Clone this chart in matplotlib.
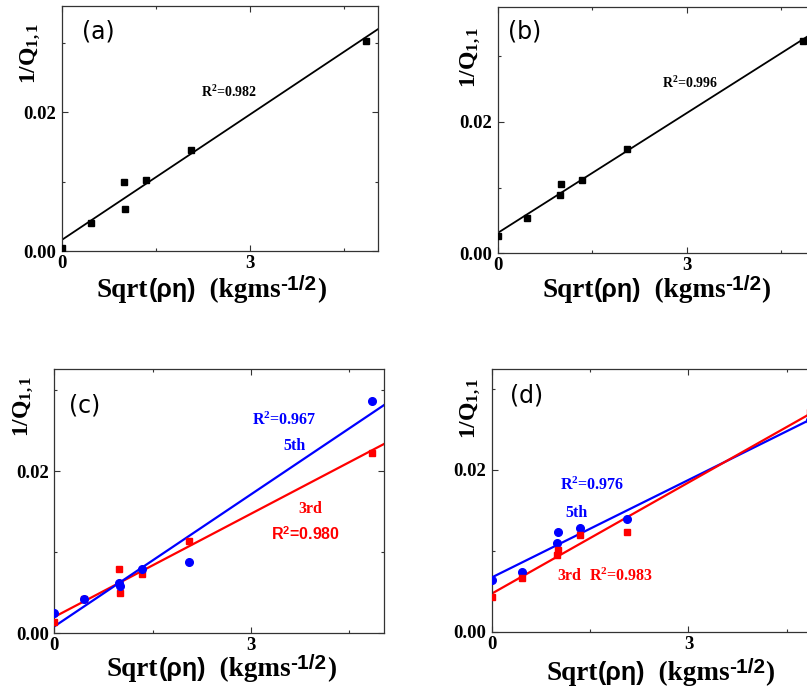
import numpy as np
import matplotlib
matplotlib.use("Agg")
import matplotlib.pyplot as plt
from matplotlib.ticker import MultipleLocator, FormatStrFormatter

plt.rcParams['mathtext.fontset'] = 'custom'
plt.rcParams['mathtext.rm'] = 'Liberation Serif:bold'
plt.rcParams['mathtext.bf'] = 'Liberation Serif:bold'
plt.rcParams['mathtext.it'] = 'Liberation Serif:bold:italic'
plt.rcParams['mathtext.sf'] = 'Liberation Sans:bold'

W, H = 807, 691

# datos
x_vals = [0.0, 0.46, 0.99, 1.01, 1.34, 2.06, 4.85]
y_a = [0.0005, 0.0041, 0.0100, 0.0061, 0.0102, 0.0146, 0.0303]
y_b = [0.0027, 0.0053, 0.0089, 0.0105, 0.0111, 0.0159, 0.0323]
y_c_5th = [0.0025, 0.0042, 0.0062, 0.0058, 0.0079, 0.0088, 0.0286]
y_c_3rd = [0.0014, 0.0042, 0.0079, 0.0050, 0.0073, 0.0114, 0.0223]
y_d_5th = [0.0064, 0.0074, 0.0110, 0.0123, 0.0128, 0.0139, 0.0262]
y_d_3rd = [0.0043, 0.0066, 0.0095, 0.0101, 0.0120, 0.0123, 0.0272]

r2_a, r2_b = "0.982", "0.996"
r2_c_5th, r2_c_3rd = "0.967", "0.980"
r2_d_5th, r2_d_3rd = "0.976", "0.983"

ylabel = r"1/Q$_{\mathbf{1,1}}$"
serif = dict(family='Liberation Serif', weight='bold')
sans = dict(family='Liberation Sans', weight='bold')

# piezas del titulo del eje x: (texto, fuente, tamano, subida en px)
xlabel_parts = [
    ("Sqrt", serif, 19.5, 0),
    ("(ρη)", sans, 18, 0),
    ("  (kgms", serif, 19.5, 0),
    ("-1/2", sans, 15, 7),
    (")", serif, 19.5, 0),
]

fig = plt.figure(figsize=(W / 100, H / 100), dpi=100)
renderer = fig.canvas.get_renderer()


def panel(l, r, t, b, ytop):
    ax = fig.add_axes([l / W, 1 - b / H, (r - l) / W, (b - t) / H])
    ax.set_xlim(0, 5.04)
    ax.set_ylim(0, ytop)
    ax.xaxis.set_major_locator(MultipleLocator(3))
    ax.xaxis.set_minor_locator(MultipleLocator(1.5))
    ax.yaxis.set_major_locator(MultipleLocator(0.02))
    ax.yaxis.set_minor_locator(MultipleLocator(0.01))
    ax.xaxis.set_major_formatter(FormatStrFormatter('%d'))
    ax.yaxis.set_major_formatter(FormatStrFormatter('%.2f'))
    ax.tick_params(which='both', direction='in', top=True, right=True, width=0.8, color='#333333')
    ax.tick_params(which='major', length=4, pad=4)
    ax.tick_params(axis='x', which='major', pad=3)
    ax.tick_params(which='minor', length=2)
    for lab in ax.get_xticklabels() + ax.get_yticklabels():
        lab.set_fontproperties(serif)
        lab.set_fontsize(13.5)
    for s in ax.spines.values():
        s.set_linewidth(0.9)
        s.set_color('#333333')
    return ax


def fit_line(ax, y, color, lw):
    k, c = np.polyfit(x_vals, y, 1)
    xl = np.array(ax.get_xlim())
    ax.plot(xl, k * xl + c, color=color, lw=lw, zorder=2)


def ftext(x, y, s, **kw):
    fig.text(x / W, 1 - y / H, s, ha='center', va='center', **kw)


def xlabel_at(x0, base):
    x = x0
    for s, fp, size, dy in xlabel_parts:
        t = fig.text(x / W, 1 - (base - dy) / H, s, ha='left', va='baseline',
                     fontproperties=fp, fontsize=size)
        x += t.get_window_extent(renderer).width


# (a)
ax = panel(62, 378, 6, 251, 0.0353)
fit_line(ax, y_a, 'black', 1.3)
ax.plot(x_vals, y_a, 's', color='black', ms=4.5, zorder=3)
ftext(98, 31, "(a)", family='DejaVu Sans', fontsize=17)
ftext(229, 92, r"R$^{\mathbf{2}}$=" + r2_a, fontproperties=serif, fontsize=10)
ftext(30, 53, ylabel, rotation=90, fontproperties=serif, fontsize=17)
xlabel_at(97, 297)

# (b)
ax = panel(497.7, 815.2, 7.3, 253.3, 0.0374)
fit_line(ax, y_b, 'black', 1.3)
ax.plot(x_vals, y_b, 's', color='black', ms=4.5, zorder=3)
ftext(525, 31, "(b)", family='DejaVu Sans', fontsize=17)
ftext(690, 83, r"R$^{\mathbf{2}}$=" + r2_b, fontproperties=serif, fontsize=10)
ftext(470, 57, ylabel, rotation=90, fontproperties=serif, fontsize=17)
xlabel_at(542, 297)

# (c)
ax = panel(54.3, 384.3, 369, 633.3, 0.0326)
fit_line(ax, y_c_3rd, 'red', 1.6)
fit_line(ax, y_c_5th, 'blue', 1.6)
ax.plot(x_vals, y_c_3rd, 's', color='red', ms=5, zorder=3)
ax.plot(x_vals, y_c_5th, 'o', color='blue', ms=5.5, zorder=3)
ftext(85, 406, "(c)", family='DejaVu Sans', fontsize=17)
ftext(284, 420, r"R$^{\mathbf{2}}$=" + r2_c_5th, fontproperties=serif, fontsize=11.5, color='blue')
ftext(294, 446, "5th", fontproperties=serif, fontsize=11.5, color='blue')
ftext(310, 509, "3rd", fontproperties=serif, fontsize=11.5, color='red')
ftext(306, 534, r"R$^{\mathsf{2}}$=" + r2_c_3rd, fontproperties=sans,
      fontsize=11.5, color='red')
ftext(23, 406, ylabel, rotation=90, fontproperties=serif, fontsize=17)
xlabel_at(107, 676)

# (d)
ax = panel(491.7, 822.3, 368.5, 631.7, 0.03255)
fit_line(ax, y_d_5th, 'blue', 1.6)
fit_line(ax, y_d_3rd, 'red', 1.6)
ax.plot(x_vals, y_d_5th, 'o', color='blue', ms=5.5, zorder=3)
ax.plot(x_vals, y_d_3rd, 's', color='red', ms=5, zorder=3)
ftext(527, 396, "(d)", family='DejaVu Sans', fontsize=17)
ftext(592, 485, r"R$^{\mathbf{2}}$=" + r2_d_5th, fontproperties=serif, fontsize=11.5, color='blue')
ftext(577, 513, "5th", fontproperties=serif, fontsize=11.5, color='blue')
ftext(569, 576, "3rd", fontproperties=serif, fontsize=11.5, color='red')
ftext(621, 576, r"R$^{\mathbf{2}}$=" + r2_d_3rd, fontproperties=serif, fontsize=11.5, color='red')
ftext(470, 408, ylabel, rotation=90, fontproperties=serif, fontsize=17)
xlabel_at(546, 680)

fig.savefig("out.png", dpi=100)
